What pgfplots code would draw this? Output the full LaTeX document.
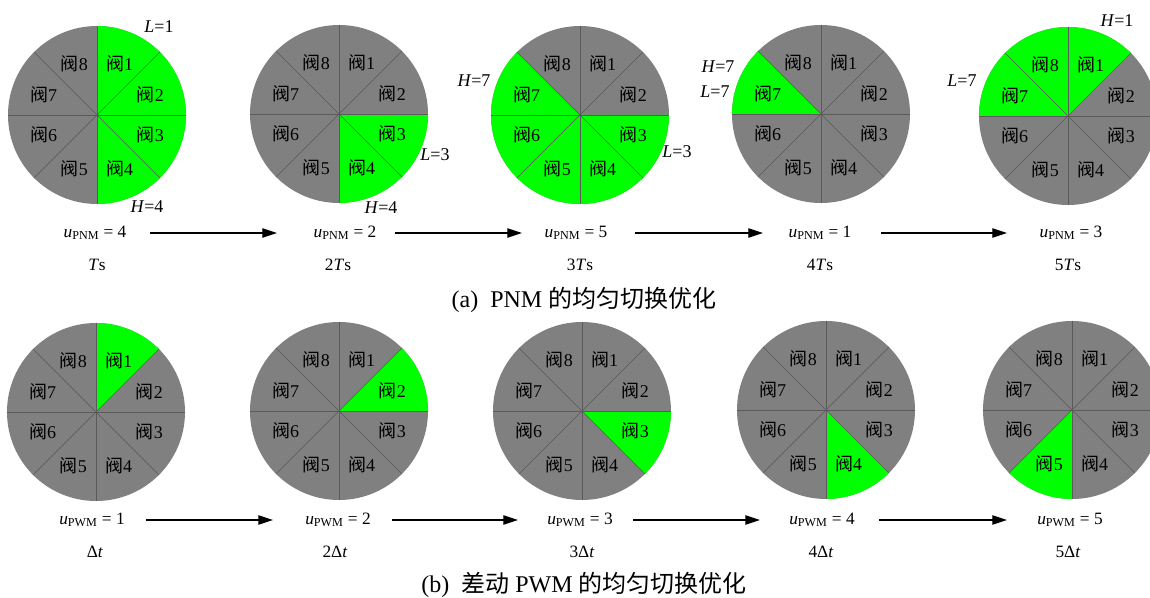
\documentclass[border=0pt]{standalone}
\usepackage{fontspec}
\setmainfont{Liberation Serif}
\newfontfamily\cjk{Noto Sans CJK SC}
\usepackage{pgfplots}
\pgfplotsset{compat=1.18}
\usetikzlibrary{arrows.meta}

\definecolor{valveoff}{RGB}{128,128,128}
\definecolor{valveon}{RGB}{0,255,0}
\definecolor{divider}{RGB}{90,90,90}

% one drawing unit = 0.75pt; pie radius = 89 units
\newcommand\R{66.75pt}
\newcommand\fs[1]{\fontsize{#1}{#1}\selectfont}

% grey disc of one valve wheel
\newcommand\wheel[2]{%
  \fill[valveoff] (axis cs:#1,#2) circle[radius=\R];}
% valves #3..#4 switched on (valve k spans 90-45k .. 135-45k degrees)
\newcommand\valveson[4]{%
  \fill[valveon] (axis cs:#1,#2) -- ++({90-45*#4}:\R)
    arc[start angle={90-45*#4}, end angle={135-45*#3}, radius=\R] -- cycle;}
% dividing lines and valve names
\newcommand\spokes[2]{%
  \draw[divider, line width=0.4pt] (axis cs:#1,#2) ++(0:\R) -- ++(180:{2*\R});
  \draw[divider, line width=0.4pt] (axis cs:#1,#2) ++(45:\R) -- ++(225:{2*\R});
  \draw[divider, line width=0.4pt] (axis cs:#1,#2) ++(90:\R) -- ++(270:{2*\R});
  \draw[divider, line width=0.4pt] (axis cs:#1,#2) ++(135:\R) -- ++(315:{2*\R});
  \node[font=\fs{13.5}, inner sep=0pt] at (axis cs:#1,#2) [xshift=17pt,  yshift=38.5pt]  {{\cjk 阀}1};
  \node[font=\fs{13.5}, inner sep=0pt] at (axis cs:#1,#2) [xshift=40pt,  yshift=15.5pt]  {{\cjk 阀}2};
  \node[font=\fs{13.5}, inner sep=0pt] at (axis cs:#1,#2) [xshift=40pt,  yshift=-14.5pt] {{\cjk 阀}3};
  \node[font=\fs{13.5}, inner sep=0pt] at (axis cs:#1,#2) [xshift=17pt,  yshift=-40pt]   {{\cjk 阀}4};
  \node[font=\fs{13.5}, inner sep=0pt] at (axis cs:#1,#2) [xshift=-17pt, yshift=-40pt]   {{\cjk 阀}5};
  \node[font=\fs{13.5}, inner sep=0pt] at (axis cs:#1,#2) [xshift=-40pt, yshift=-14.5pt] {{\cjk 阀}6};
  \node[font=\fs{13.5}, inner sep=0pt] at (axis cs:#1,#2) [xshift=-40pt, yshift=15.5pt]  {{\cjk 阀}7};
  \node[font=\fs{13.5}, inner sep=0pt] at (axis cs:#1,#2) [xshift=-17pt, yshift=38.5pt]  {{\cjk 阀}8};}

\tikzset{nextstep/.style={-{Triangle[length=11pt,width=7pt]}, line width=0.8pt}}

\begin{document}
\begin{tikzpicture}
\begin{axis}[x=0.75pt, y=0.75pt, xmin=0, xmax=1150, ymin=0, ymax=597,
  hide axis, clip=true]
\path (axis cs:0,0) rectangle (axis cs:1150,597);

% ---------- (a) PNM ----------
\wheel{97}{482}   \valveson{97}{482}{1}{4}   \spokes{97}{482}
\wheel{339}{483}  \valveson{339}{483}{3}{4}  \spokes{339}{483}
\wheel{580}{482}  \valveson{580}{482}{3}{7}  \spokes{580}{482}
\wheel{821}{483}  \valveson{821}{483}{7}{7}  \spokes{821}{483}
\wheel{1068}{481} \valveson{1068}{481}{7}{9} \spokes{1068}{481}

\node[font=\fs{13.5}] at (axis cs:159,570)  {\textit{L}=1};
\node[font=\fs{13.5}] at (axis cs:147,390)  {\textit{H}=4};
\node[font=\fs{13.5}] at (axis cs:435,442)  {\textit{L}=3};
\node[font=\fs{13.5}] at (axis cs:381,389)  {\textit{H}=4};
\node[font=\fs{13.5}] at (axis cs:474,516)  {\textit{H}=7};
\node[font=\fs{13.5}] at (axis cs:677,445)  {\textit{L}=3};
\node[font=\fs{13.5}] at (axis cs:718,530)  {\textit{H}=7};
\node[font=\fs{13.5}] at (axis cs:715,505)  {\textit{L}=7};
\node[font=\fs{13.5}] at (axis cs:1117,576) {\textit{H}=1};
\node[font=\fs{13.5}] at (axis cs:962,516)  {\textit{L}=7};

\node[font=\fs{13}] at (axis cs:95,364)   {\textit{u}\textsubscript{PNM} = 4};
\node[font=\fs{13}] at (axis cs:345,364)  {\textit{u}\textsubscript{PNM} = 2};
\node[font=\fs{13}] at (axis cs:576,364)  {\textit{u}\textsubscript{PNM} = 5};
\node[font=\fs{13}] at (axis cs:820,364)  {\textit{u}\textsubscript{PNM} = 1};
\node[font=\fs{13}] at (axis cs:1071,364) {\textit{u}\textsubscript{PNM} = 3};
\draw[nextstep] (axis cs:150,364) -- (axis cs:277,364);
\draw[nextstep] (axis cs:395,364) -- (axis cs:522,364);
\draw[nextstep] (axis cs:635,364) -- (axis cs:763,364);
\draw[nextstep] (axis cs:881,364) -- (axis cs:1007,364);

\node[font=\fs{13}] at (axis cs:97,332)   {\textit{T}s};
\node[font=\fs{13}] at (axis cs:338,332)  {2\textit{T}s};
\node[font=\fs{13}] at (axis cs:580,332)  {3\textit{T}s};
\node[font=\fs{13}] at (axis cs:820,332)  {4\textit{T}s};
\node[font=\fs{13}] at (axis cs:1068,332) {5\textit{T}s};

\node[font=\fs{18}] at (axis cs:584,297) {(a)\enspace PNM {\cjk 的均匀切换优化}};

% ---------- (b) differential PWM ----------
\wheel{96}{185}   \valveson{96}{185}{1}{1}   \spokes{96}{185}
\wheel{339}{186}  \valveson{339}{186}{2}{2}  \spokes{339}{186}
\wheel{582}{186}  \valveson{582}{186}{3}{3}  \spokes{582}{186}
\wheel{826}{187}  \valveson{826}{187}{4}{4}  \spokes{826}{187}
\wheel{1072}{187} \valveson{1072}{187}{5}{5} \spokes{1072}{187}

\node[font=\fs{13}] at (axis cs:92,77)   {\textit{u}\textsubscript{PWM} = 1};
\node[font=\fs{13}] at (axis cs:338,77)  {\textit{u}\textsubscript{PWM} = 2};
\node[font=\fs{13}] at (axis cs:580,77)  {\textit{u}\textsubscript{PWM} = 3};
\node[font=\fs{13}] at (axis cs:822,77)  {\textit{u}\textsubscript{PWM} = 4};
\node[font=\fs{13}] at (axis cs:1070,77) {\textit{u}\textsubscript{PWM} = 5};
\draw[nextstep] (axis cs:146,77) -- (axis cs:273,77);
\draw[nextstep] (axis cs:392,77) -- (axis cs:518,77);
\draw[nextstep] (axis cs:633,77) -- (axis cs:760,77);
\draw[nextstep] (axis cs:879,77) -- (axis cs:1007,77);

\node[font=\fs{13}] at (axis cs:95,45)   {Δ\textit{t}};
\node[font=\fs{13}] at (axis cs:335,45)  {2Δ\textit{t}};
\node[font=\fs{13}] at (axis cs:582,45)  {3Δ\textit{t}};
\node[font=\fs{13}] at (axis cs:821,45)  {4Δ\textit{t}};
\node[font=\fs{13}] at (axis cs:1068,45) {5Δ\textit{t}};

\node[font=\fs{18}] at (axis cs:584,12) {(b)\enspace{\cjk 差动} PWM {\cjk 的均匀切换优化}};
\end{axis}
\end{tikzpicture}
\end{document}
